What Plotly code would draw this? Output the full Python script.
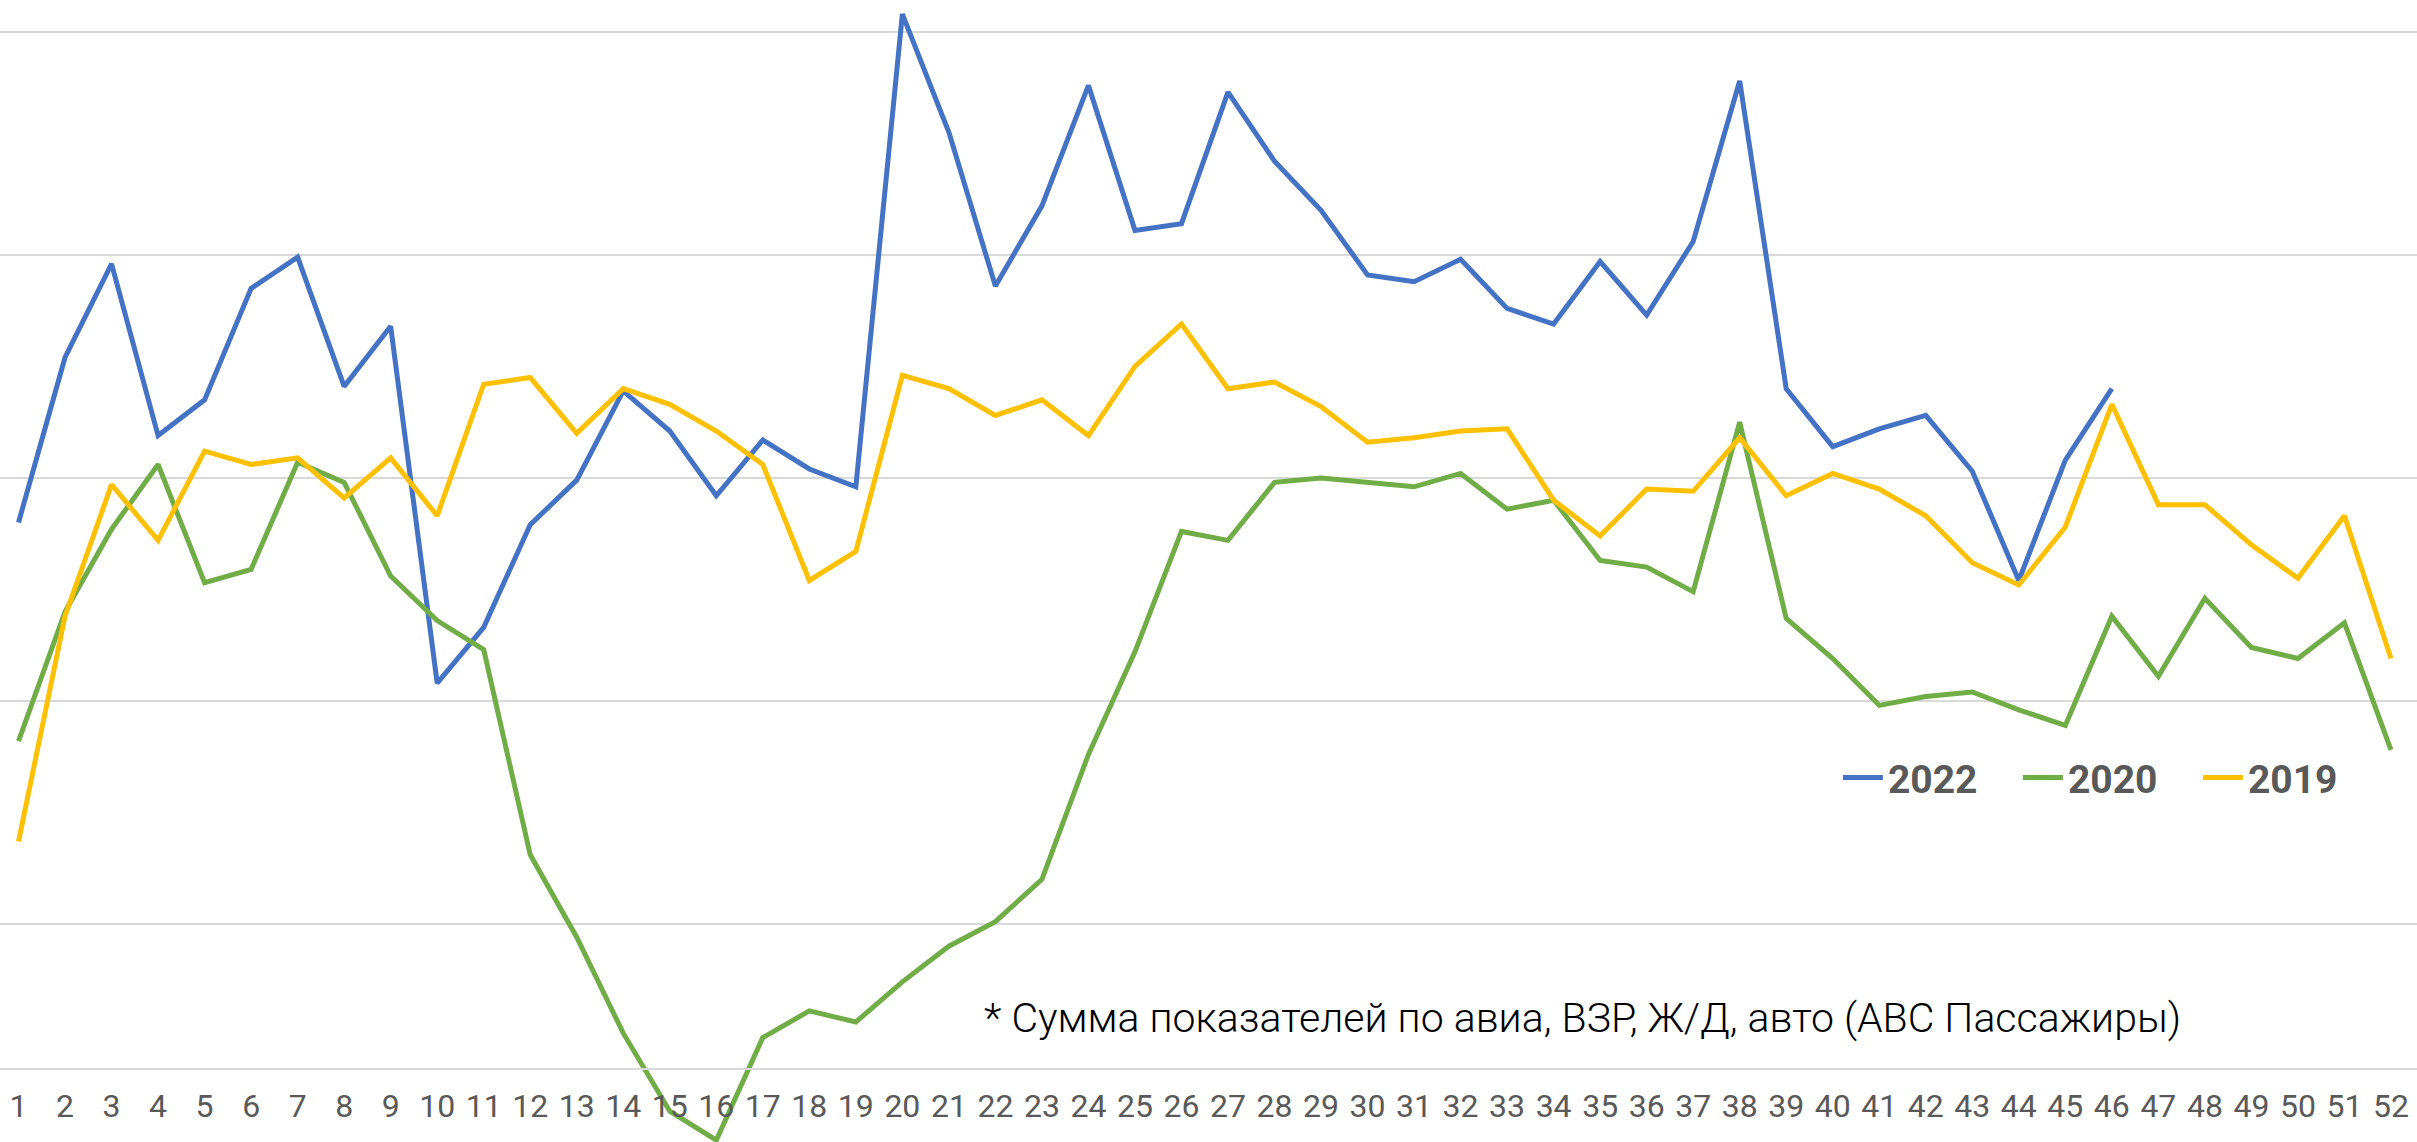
import plotly.graph_objects as go

weeks = list(range(1, 53))

y2022 = [28.0, 35.4, 39.6, 31.9, 33.5, 38.5, 39.9, 34.1, 36.8, 20.8,
         23.3, 27.9, 29.9, 33.9, 32.1, 29.2, 31.7, 30.4, 29.6, 50.8,
         45.5, 38.6, 42.2, 47.6, 41.1, 41.4, 47.3, 44.2, 42.0, 39.1,
         38.8, 39.8, 37.6, 36.9, 39.7, 37.3, 40.6, 47.8, 34.0, 31.4,
         32.2, 32.8, 30.3, 25.4, 30.8, 34.0]

y2020 = [18.2, 24.0, 27.7, 30.6, 25.3, 25.9, 30.7, 29.8, 25.6, 23.6,
         22.3, 13.1, 9.4, 5.1, 1.6, 0.3, 4.9, 6.1, 5.6, 7.4,
         9.0, 10.1, 12.0, 17.6, 22.2, 27.6, 27.2, 29.8, 30.0, 29.8,
         29.6, 30.2, 28.6, 29.0, 26.3, 26.0, 24.9, 32.5, 23.7, 21.9,
         19.8, 20.2, 20.4, 19.6, 18.9, 23.8, 21.1, 24.6, 22.4, 21.9,
         23.5, 17.8]

y2019 = [13.7, 23.8, 29.7, 27.2, 31.2, 30.6, 30.9, 29.1, 30.9, 28.3,
         34.2, 34.5, 32.0, 34.0, 33.3, 32.1, 30.6, 25.4, 26.7, 34.6,
         34.0, 32.8, 33.5, 31.9, 35.0, 36.9, 34.0, 34.3, 33.2, 31.6,
         31.8, 32.1, 32.2, 29.0, 27.4, 29.5, 29.4, 31.8, 29.2, 30.2,
         29.5, 28.3, 26.2, 25.2, 27.8, 33.3, 28.8, 28.8, 27.0, 25.5,
         28.3, 21.9]

series_names = ["2022", "2020", "2019"]
series_colors = ["#4472C4", "#70AD47", "#FFC000"]
note_text = "* Сумма показателей по авиа, ВЗР, Ж/Д, авто (АВС Пассажиры)"

Y_MIN, Y_MAX = 0.22, 51.43
AXIS_VALUE = 3.48
X_MIN, X_MAX = 0.602, 52.56

fig = go.Figure()
for name, ys, col in zip(series_names, [y2022, y2020, y2019], series_colors):
    fig.add_trace(go.Scatter(
        x=weeks[:len(ys)], y=ys, name=name, mode="lines",
        line=dict(color=col, width=5),
    ))

axis_pos = (AXIS_VALUE - Y_MIN) / (Y_MAX - Y_MIN)

tick_font = "Roboto, sans-serif"

fig.update_layout(
    width=2417, height=1142,
    margin=dict(l=0, r=0, t=0, b=0),
    paper_bgcolor="white", plot_bgcolor="white",
    showlegend=True,
    legend=dict(
        orientation="h", x=0.7604, y=0.319, xanchor="left", yanchor="middle",
        font=dict(family=tick_font, size=39, color="#595959", weight="bold"),
        bgcolor="rgba(0,0,0,0)", itemwidth=40,
        entrywidth=125, entrywidthmode="pixels",
    ),
    xaxis=dict(
        range=[X_MIN, X_MAX], tickmode="array", tickvals=weeks,
        ticktext=[str(w) for w in weeks],
        anchor="free", position=axis_pos,
        showline=True, linecolor="#d9d9d9", linewidth=2,
        showgrid=False, zeroline=False,
        ticks="outside", ticklen=8, tickcolor="rgba(0,0,0,0)",
        tickfont=dict(family=tick_font, size=32, color="#595959"),
    ),
    yaxis=dict(
        range=[Y_MIN, Y_MAX], tick0=0, dtick=10,
        showgrid=True, gridcolor="#d9d9d9", gridwidth=2,
        showticklabels=False, zeroline=False, showline=False,
    ),
    annotations=[dict(
        text=note_text, x=0.4063, y=0.1086, xref="paper", yref="paper",
        xanchor="left", yanchor="middle", showarrow=False,
        font=dict(family="Roboto, sans-serif", size=41, color="#000000", weight=300),
    )],
)

fig.write_html("out.html", config={"displayModeBar": False},
               post_script="document.body.style.margin='0px';")
